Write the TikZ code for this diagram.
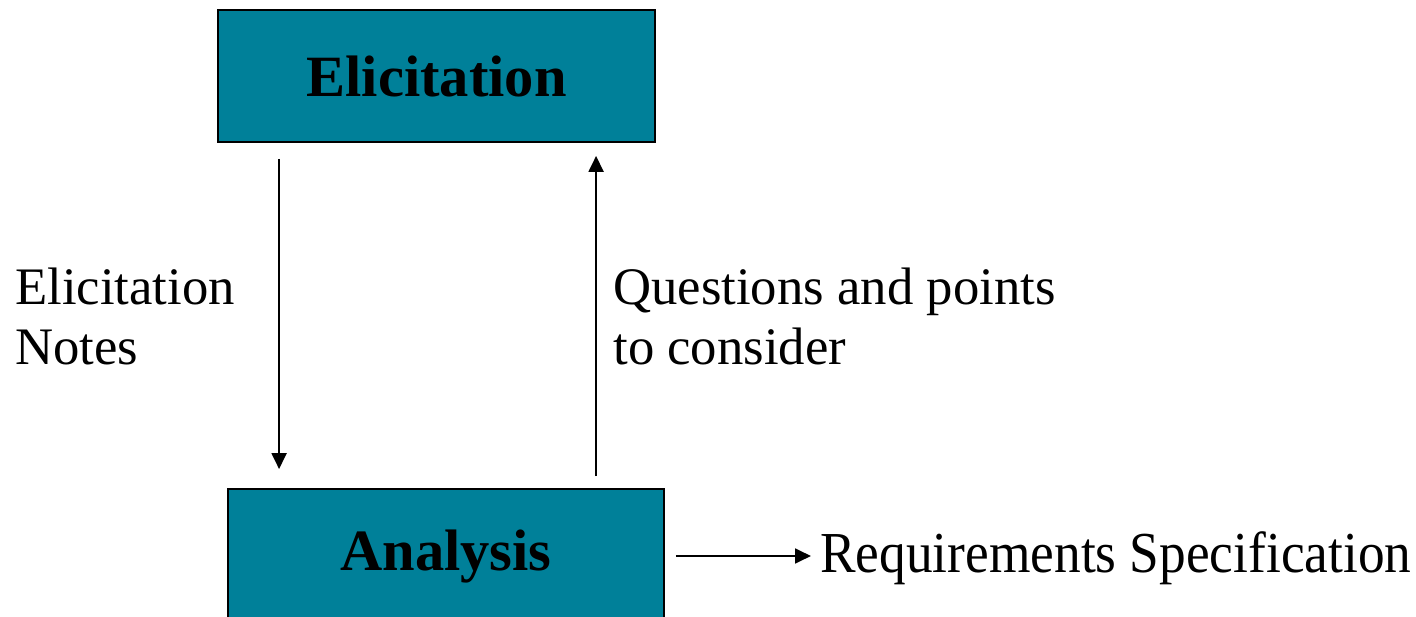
\documentclass[tikz,border=0pt]{standalone}
\usepackage{fontspec}
\setmainfont{Liberation Serif}
\usetikzlibrary{arrows.meta,calc}
\definecolor{boxteal}{RGB}{0,128,153}
\tikzset{
  stage/.style={draw=black, line width=1.1pt, fill=boxteal, inner sep=0pt,
    font=\fontsize{33.3}{36}\selectfont\bfseries},
  flow/.style={line width=1pt, -{Triangle[width=8.5pt,length=9pt]}},
  lbl/.style={inner sep=0pt, align=left, font=\fontsize{30}{34.2}\selectfont}
}
\begin{document}
\begin{tikzpicture}[x=0.02cm, y=-0.02cm]
\useasboundingbox (0,0) rectangle (1416,617);
\node[stage, minimum width=8.74cm, minimum height=2.64cm] (elic) at (436.5,76) {Elicitation};
\node[stage, minimum width=8.72cm, minimum height=2.72cm] (anal) at (446,557) {Analysis};
\draw[flow] ($(elic.south west)+(62,16)$) -- ($(anal.north west)+(52,-19)$);
\draw[flow] ($(anal.north west)+(369,-12)$) -- ($(elic.south west)+(379,13)$);
\draw[flow] ($(anal.east)+(11,-1)$) -- ++(135,0) coordinate (spec);
\node[lbl, anchor=base west] (notes) at (15,365) {Elicitation\\Notes};
\node[lbl, anchor=base west] (quest) at (613,365) {Questions and points\\to consider};
\node[lbl, anchor=base west, font=\fontsize{33}{36}\selectfont, xscale=0.92] (reqs) at (820,573) {Requirements Specification};
\end{tikzpicture}
\end{document}
